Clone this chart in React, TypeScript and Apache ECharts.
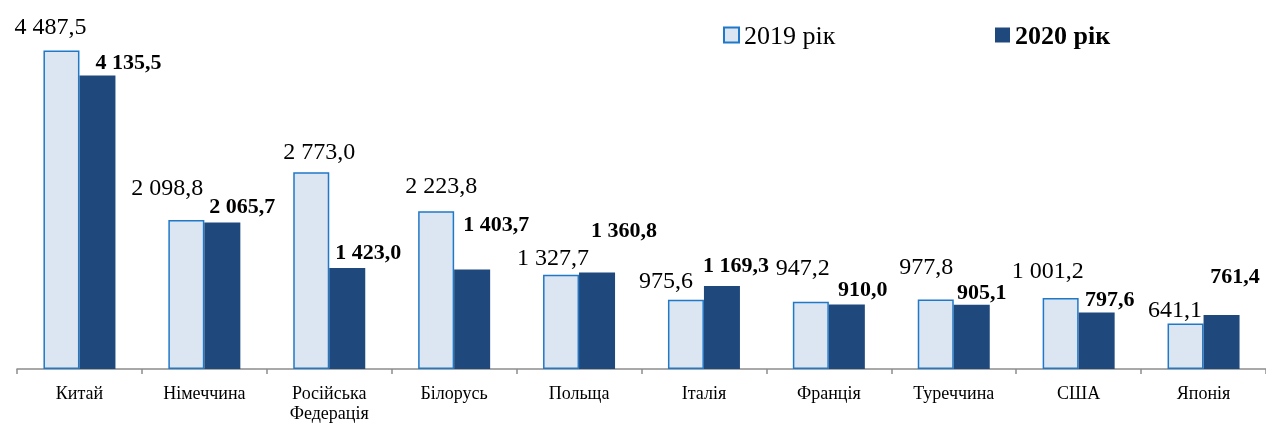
import React, { useEffect, useRef } from "react";
import * as echarts from "echarts";

const categories = ["Китай", "Німеччина", "Російська\nФедерація", "Білорусь", "Польща", "Італія", "Франція", "Туреччина", "США", "Японія"];
const values2019 = [4487.5, 2098.8, 2773.0, 2223.8, 1327.7, 975.6, 947.2, 977.8, 1001.2, 641.1];
const values2020 = [4135.5, 2065.7, 1423.0, 1403.7, 1360.8, 1169.3, 910.0, 905.1, 797.6, 761.4];
const seriesNames = ["2019 рік", "2020 рік"];

// label nudges (layout only)
const offsets2019: [number, number][] = [[-11, -8], [-19, -16], [8, -4], [5, -9], [-8, -1], [-20, -3], [-8, -18], [-9.5, -17], [-13, -11], [-10.5, 2]];
const offsets2020: [number, number][] = [[31, 2], [20, -1], [21, -1], [24, -29.5], [27, -27], [14, -6], [16, 0], [10, 3], [13, 2], [13.5, -23]];

const fmt = (v: number) => {
  const [i, d] = v.toFixed(1).split(".");
  return i.replace(/\B(?=(\d{3})+(?!\d))/g, " ") + "," + d;
};

const FONT = "'Liberation Serif', 'Times New Roman', serif";

export default function App() {
  const ref = useRef<HTMLDivElement>(null);
  useEffect(() => {
    if (!ref.current) return;
    const chart = echarts.init(ref.current, null, { renderer: "svg" });
    chart.setOption({
      animation: false,
      grid: { left: 17, top: 0, width: 1250, height: 371 },
      legend: [
        {
          left: 723, top: 22, padding: 0, itemWidth: 15, itemHeight: 15, itemGap: 0, icon: "rect",
          data: [seriesNames[0]],
          textStyle: { fontFamily: FONT, fontSize: 26, color: "#000" },
        },
        {
          left: 995, top: 22, padding: 0, itemWidth: 15, itemHeight: 15, itemGap: 0, icon: "rect",
          data: [seriesNames[1]],
          textStyle: { fontFamily: FONT, fontSize: 26, color: "#000", fontWeight: "bold" },
        },
      ],
      xAxis: {
        type: "category",
        data: categories,
        axisLine: { lineStyle: { color: "#8c8c8c", width: 1.5 } },
        axisTick: { show: true, alignWithLabel: false, interval: 0, length: 5, lineStyle: { color: "#8c8c8c", width: 1.5 } },
        axisLabel: { fontFamily: FONT, fontSize: 18, color: "#000", margin: 14, lineHeight: 20, interval: 0 },
      },
      yAxis: { type: "value", min: 0, max: 5200, show: false, splitLine: { show: false } },
      series: [
        {
          name: seriesNames[0],
          type: "bar",
          barWidth: 36,
          barGap: "0%",
          itemStyle: { color: "#dce6f2", borderColor: "#1f78c8", borderWidth: 1.5 },
          data: values2019.map((v, i) => ({
            value: v,
            label: { offset: offsets2019[i] },
          })),
          label: {
            show: true, position: "top", distance: 5,
            fontFamily: FONT, fontSize: 24, color: "#000",
            formatter: (p: any) => fmt(p.value),
          },
        },
        {
          name: seriesNames[1],
          type: "bar",
          barWidth: 36,
          itemStyle: { color: "#1f497d" },
          data: values2020.map((v, i) => ({
            value: v,
            label: { offset: offsets2020[i] },
          })),
          label: {
            show: true, position: "top", distance: 5,
            fontFamily: FONT, fontSize: 22, fontWeight: "bold", color: "#000",
            formatter: (p: any) => fmt(p.value),
          },
        },
      ],
    });
    return () => chart.dispose();
  }, []);
  return <div ref={ref} style={{ position: "fixed", left: 0, top: 0, width: 1266, height: 423 }} />;
}
